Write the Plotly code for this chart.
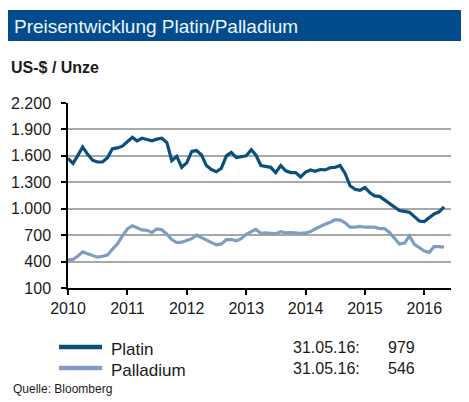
import plotly.graph_objects as go
import pandas as pd

# monthly values, Jan 2010 - May 2016 (US-$ / ounce)
months = pd.date_range("2010-01-01", "2016-05-01", freq="MS")

platin = [1570, 1515, 1600, 1700, 1620, 1550, 1530, 1530, 1580, 1680, 1690, 1710,
          1760, 1810, 1770, 1800, 1785, 1770, 1790, 1800, 1750, 1545, 1595, 1470,
          1520, 1650, 1660, 1610, 1490, 1445, 1420, 1460, 1600, 1640, 1580, 1590,
          1600, 1670, 1610, 1490, 1480, 1470, 1410, 1490, 1430, 1410, 1410, 1360,
          1415, 1440, 1425, 1445, 1440, 1465, 1470, 1490, 1400, 1260, 1220, 1210,
          1240, 1180, 1145, 1140, 1100, 1060, 1020, 980, 970, 960, 910, 860,
          855, 900, 940, 965, 1020]

palladium = [420, 425, 460, 510, 490, 465, 450, 460, 475, 540, 600, 690,
             770, 805, 785, 760, 755, 730, 770, 760, 710, 650, 615, 620,
             640, 660, 700, 670, 650, 615, 590, 600, 650, 650, 635, 660,
             710, 740, 765, 720, 725, 720, 715, 740, 725, 730, 725, 720,
             725, 740, 770, 800, 825, 845, 875, 870, 840, 790, 790, 800,
             790, 790, 790, 775, 775, 730, 660, 600, 610, 690, 595, 560,
             520, 505, 570, 570, 565]

series_names = ["Platin", "Palladium"]
series_colors = ["#0B4F7F", "#7F9DC2"]
last_date = "31.05.16:"
last_values = ["979", "546"]

y_ticks = [100, 400, 700, 1000, 1300, 1600, 1900, 2200]
x_ticks = ["2010", "2011", "2012", "2013", "2014", "2015", "2016"]

# plot area in window pixels (469x402)
L, R, T, B = 68, 451, 103, 288
W, H = R - L, B - T


def px(x):
    return (x - L) / W


def py(y):
    return (B - y) / H


fig = go.Figure()
for name, vals, col in zip(series_names, [platin, palladium], series_colors):
    fig.add_trace(go.Scatter(x=months, y=vals, name=name, mode="lines",
                             line=dict(color=col, width=3.2)))

fontdict = dict(family="Arial, Liberation Sans, sans-serif", size=16, color="#1a1a1a")

fig.update_layout(
    width=469, height=402,
    margin=dict(l=L, r=469 - R, t=T, b=402 - B),
    paper_bgcolor="white", plot_bgcolor="white",
    separators=",.",
    font=fontdict,
    showlegend=False,
    xaxis=dict(
        type="date",
        range=["2010-01-01", "2016-06-13"],
        tickvals=[x + "-01-01" for x in x_ticks],
        ticktext=x_ticks,
        ticks="outside", ticklen=5, tickwidth=1.5, tickcolor="black",
        showline=True, linecolor="black", linewidth=1.5,
        showgrid=False, zeroline=False,
        tickfont=dict(size=16),
    ),
    yaxis=dict(
        range=[100, 2200],
        tickvals=y_ticks,
        tickformat=",d",
        ticks="outside", ticklen=5, tickwidth=1.5, tickcolor="black",
        showline=True, linecolor="black", linewidth=1.5,
        showgrid=True, gridcolor="#A8A8A8", gridwidth=1.5,
        zeroline=False,
        ticklabelstandoff=7,
        tickfont=dict(size=16),
    ),
)

# title bar
fig.add_shape(type="rect", xref="paper", yref="paper",
              x0=px(8), x1=px(461), y0=py(41), y1=py(10),
              fillcolor="#024C8E", line=dict(width=0), layer="below")
fig.add_annotation(text="Preisentwicklung Platin/Palladium", xref="paper", yref="paper",
                   x=px(12), y=py(26), xanchor="left", yanchor="middle", showarrow=False,
                   font=dict(size=19, color="#EAF6FF"))
fig.add_annotation(text="<b>US-$ / Unze</b>", xref="paper", yref="paper",
                   x=px(9), y=py(67), xanchor="left", yanchor="middle", showarrow=False,
                   font=dict(size=16, color="#1a1a1a"))

# legend keys, names and last values
for i, (name, col, v) in enumerate(zip(series_names, series_colors, last_values)):
    yy = py(347 + i * 21)
    fig.add_shape(type="line", xref="paper", yref="paper",
                  x0=px(59), x1=px(102), y0=yy, y1=yy,
                  line=dict(color=col, width=4.5))
    fig.add_annotation(text=name, xref="paper", yref="paper", x=px(109), y=py(349 + i * 21),
                       xanchor="left", yanchor="middle", showarrow=False,
                       font=dict(size=17, color="#1a1a1a"))
    fig.add_annotation(text=last_date, xref="paper", yref="paper", x=px(291), y=yy,
                       xanchor="left", yanchor="middle", showarrow=False,
                       font=dict(size=16, color="#1a1a1a"))
    fig.add_annotation(text=v, xref="paper", yref="paper", x=px(386), y=yy,
                       xanchor="left", yanchor="middle", showarrow=False,
                       font=dict(size=16, color="#1a1a1a"))

fig.add_annotation(text="Quelle: Bloomberg", xref="paper", yref="paper",
                   x=px(11), y=py(389), xanchor="left", yanchor="middle", showarrow=False,
                   font=dict(size=12, color="#1a1a1a"))

# drop the default body margin so the figure sits at the window's corner
fig.write_html("out.html", config={"displayModeBar": False},
               post_script="document.body.style.margin='0px';")
